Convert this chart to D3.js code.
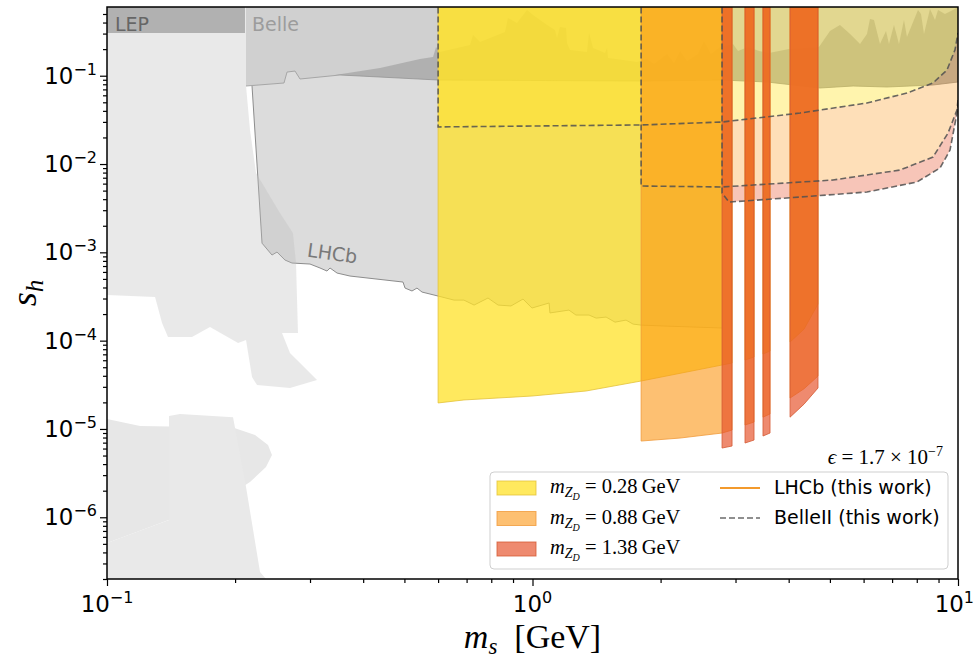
<!DOCTYPE html>
<html>
<head>
<meta charset="utf-8">
<script src="https://cdn.jsdelivr.net/npm/d3@7"></script>
<style>
  body { margin: 0; background: #fff; }
  svg { display: block; }
</style>
</head>
<body>
<svg id="chart" width="975" height="658"></svg>
<script>
// ---------------- data ----------------
const xDomain = [0.1, 10];
const yDomain = [2e-7, 0.6];
const xTickExps = [-1, 0, 1];
const yTickExps = [-6, -5, -4, -3, -2, -1];

// existing bounds (grey): [m_s (GeV), s_h]
const lepBound = [[0.1, 0.305], [0.211, 0.305]];
const belleBottom = [[0.2122, 0.0765], [0.2606, 0.0827], [0.2649, 0.110], [0.2766, 0.113], [0.2842, 0.0918],
  [0.3529, 0.1019], [0.6, 0.0894], [1.8, 0.0871], [2.789, 0.0894], [3.556, 0.0849], [4.738, 0.0726],
  [5.667, 0.0765], [6.809, 0.0745], [8.735, 0.0785], [10, 0.0849]];
const babarTop = [[0.3435, 0.1019], [0.4382, 0.1223], [0.5441, 0.155], [0.5838, 0.163], [0.5933, 0.211],
  [0.6061, 0.186], [0.7131, 0.223], [0.7248, 0.289], [0.7528, 0.241], [0.8617, 0.313], [0.8758, 0.450],
  [0.9196, 0.395], [0.9707, 0.555], [1.003, 0.487], [1.082, 0.375], [1.129, 0.329], [1.142, 0.267],
  [1.160, 0.356], [1.199, 0.347], [1.205, 0.235], [1.225, 0.196], [1.343, 0.186], [1.358, 0.305],
  [1.388, 0.206], [1.481, 0.181], [1.497, 0.206], [1.505, 0.159], [1.632, 0.151], [1.760, 0.143],
  [1.858, 0.155], [1.930, 0.136], [2.071, 0.176], [2.151, 0.139], [2.222, 0.191], [2.308, 0.147],
  [2.448, 0.176], [2.529, 0.247], [2.626, 0.176], [2.759, 0.211], [2.960, 0.229], [3.041, 0.191],
  [3.210, 0.211], [3.407, 0.191], [3.597, 0.181], [3.797, 0.191], [4.008, 0.201], [4.713, 0.211],
  [5.002, 0.321], [5.280, 0.375], [5.576, 0.297], [5.886, 0.229], [6.111, 0.297], [6.211, 0.439],
  [6.347, 0.428], [6.556, 0.229], [6.773, 0.321], [6.883, 0.229], [7.072, 0.375], [7.266, 0.229],
  [7.465, 0.428], [7.587, 0.274], [8.053, 0.555], [8.185, 0.500], [8.319, 0.297], [8.594, 0.570],
  [8.830, 0.428], [8.975, 0.555], [9.320, 0.500], [9.732, 0.555], [10, 0.6]];
const lhcbOld = [[0.2192, 0.0765], [0.2314, 0.00127], [0.2442, 0.000932], [0.2509, 0.001008], [0.262, 0.000818],
  [0.2721, 0.000757], [0.3, 0.000737], [0.3167, 0.000665], [0.3289, 0.000614], [0.3343, 0.000665],
  [0.3472, 0.000583], [0.3725, 0.000539], [0.4962, 0.000461], [0.5017, 0.000394], [0.521, 0.000365],
  [0.5352, 0.000394], [0.55, 0.000355], [0.6, 0.00032], [0.654, 0.000288], [0.69, 0.000288],
  [0.729, 0.000253], [0.786, 0.000304], [0.83, 0.000253], [0.89, 0.000247], [0.95, 0.000296],
  [0.997, 0.000234], [1.094, 0.000267], [1.099, 0.000206], [1.218, 0.000222], [1.265, 0.000195],
  [1.358, 0.000195], [1.411, 0.00018], [1.489, 0.000185], [1.563, 0.000162], [1.659, 0.000171],
  [1.723, 0.000154], [1.8, 0.00015], [2.071, 0.000146], [2.789, 0.000139]];
const lowMassA = [[0.1, 0.6], [0.2122, 0.6], [0.2122, 0.0765], [0.2168, 0.0243], [0.224, 0.00791],
  [0.255, 0.00279], [0.2735, 0.00166], [0.2781, 0.000757], [0.2811, 0.000122], [0.2578, 0.000122],
  [0.2692, 0.0000724], [0.3116, 0.0000358], [0.2692, 0.0000291], [0.2252, 0.0000314], [0.2192, 0.0000387],
  [0.2122, 0.000102], [0.2033, 0.000094], [0.1746, 0.000143], [0.1584, 0.00011], [0.1391, 0.00011],
  [0.1347, 0.000158], [0.1297, 0.000312], [0.1, 0.000329]];
const lowMassB = [[0.1, 1.30e-5], [0.1196, 1.08e-5], [0.1654, 1.05e-5], [0.2, 1.02e-5], [0.2228, 8.53e-6],
  [0.239, 6.58e-6], [0.2442, 5.06e-6], [0.2364, 3.70e-6], [0.2168, 2.51e-6], [0.1946, 1.79e-6],
  [0.1567, 1.15e-6], [0.1262, 7.75e-7], [0.1, 5.11e-7]];
const lowMassC = [[0.1399, 1.40e-5], [0.1484, 1.48e-5], [0.1978, 1.36e-5], [0.2122, 2.20e-6], [0.2289, 2.40e-7],
  [0.2364, 2.0e-7], [0.1, 2.0e-7], [0.1, 5.11e-7], [0.1262, 7.75e-7], [0.1399, 9.30e-7]];

// LHCb (this work): lower edges per m_ZD, and the m_s windows kept after vetoes
const lhcbWindows = [[0.5, 2.944], [3.158, 3.316], [3.481, 3.616], [4.03, 4.688]];
const lhcbLower028 = [[0.6, 1.97e-5], [0.69, 2.13e-5], [0.997, 2.36e-5], [1.336, 2.69e-5], [1.8, 3.49e-5],
  [2.789, 5.30e-5], [2.944, 5.58e-5], [3.158, 6.03e-5], [3.316, 6.53e-5], [3.481, 7.05e-5],
  [3.616, 7.63e-5], [4.03, 9.64e-5], [4.346, 1.35e-4], [4.688, 2.6e-4]];
const lhcbLower088 = [[1.8, 7.3e-6], [2.222, 7.89e-6], [2.789, 8.99e-6], [2.944, 9.72e-6], [3.158, 1.108e-5],
  [3.316, 1.198e-5], [3.481, 1.36e-5], [3.616, 1.48e-5], [4.03, 2.24e-5], [4.346, 2.85e-5], [4.688, 3.97e-5]];
const lhcbLower138 = [[2.789, 6.08e-6], [2.944, 6.41e-6], [3.158, 6.93e-6], [3.316, 7.49e-6], [3.481, 8.32e-6],
  [3.616, 8.99e-6], [4.03, 1.36e-5], [4.346, 1.91e-5], [4.688, 2.91e-5]];

// BelleII (this work): lower edges per m_ZD
const belle2Lower028 = [[0.6, 0.0263], [1.8, 0.0277], [2.789, 0.0299], [4.255, 0.0378], [6.111, 0.0491],
  [7.587, 0.0637], [8.735, 0.0827], [9.421, 0.116], [9.838, 0.196], [10, 0.305]];
const belle2Lower088 = [[1.8, 0.00564], [2.789, 0.0055], [5.084, 0.00659], [7.305, 0.00855], [8.735, 0.012],
  [9.474, 0.0224], [9.945, 0.0409], [10, 0.0531]];
const belle2Lower138 = [[2.789, 0.00469], [2.897, 0.00371], [4.255, 0.00423], [6.111, 0.00482], [8.009, 0.00626],
  [9.073, 0.00902], [9.577, 0.0144], [9.945, 0.0378], [10, 0.0466]];

const massLabels = ['0.28', '0.88', '1.38'];
const seriesColors = ['rgb(255,225,40)', 'rgb(251,150,20)', 'rgb(230,80,40)'];
const edgeColors = ['#e3c23a', '#f09a3a', '#d45a34'];
const lhcbAlpha = [0.75, 0.6, 0.67];
const belle2Alpha = [0.38, 0.3, 0.33];

// ---------------- layout ----------------
const W = 975, H = 658;
const margin = { left: 107, right: 17, top: 7, bottom: 79 };
const svg = d3.select('#chart');
const x = d3.scaleLog().domain(xDomain).range([margin.left, W - margin.right]);
const y = d3.scaleLog().domain(yDomain).range([H - margin.bottom, margin.top]);
const above = yDomain[1] * 2; // regions extend past the top of the frame

const line = d3.line().x(d => x(d[0])).y(d => y(d[1]));
const closed = pts => line(pts) + 'Z';
const toTop = pts => [...pts, [pts[pts.length - 1][0], above], [pts[0][0], above]];

svg.append('defs').append('clipPath').attr('id', 'plotArea').append('rect')
  .attr('x', margin.left).attr('y', margin.top)
  .attr('width', W - margin.left - margin.right).attr('height', H - margin.top - margin.bottom);

const plot = svg.append('g').attr('clip-path', 'url(#plotArea)');

// ---- existing constraints ----
plot.append('path').attr('d', closed(lowMassB)).attr('fill', '#e7e7e7');
plot.append('path').attr('d', closed(lowMassC)).attr('fill', '#e9e9e9');

plot.append('path').attr('d', closed(toTop(lhcbOld))).attr('fill', '#dcdcdc');
plot.append('path').attr('d', line(lhcbOld)).attr('fill', 'none').attr('stroke', '#8c8c8c').attr('stroke-width', 1);

plot.append('path').attr('d', closed(toTop(belleBottom))).attr('fill', '#d0d0d0');
plot.append('path').attr('d', line(belleBottom)).attr('fill', 'none').attr('stroke', '#a6a6a6').attr('stroke-width', 1);

const babarPoly = [...babarTop, ...belleBottom.filter(p => p[0] > 0.35).reverse()];
plot.append('path').attr('d', closed(babarPoly)).attr('fill', '#8a8a8a').attr('fill-opacity', 0.45);

plot.append('path').attr('d', closed(lowMassA)).attr('fill', '#bdbdbd').attr('fill-opacity', 0.33);

plot.append('path').attr('d', closed(toTop(lepBound))).attr('fill', '#b1b1b1');

// region labels
plot.append('text').attr('x', x(0.1044)).attr('y', y(0.325))
  .attr('font-family', 'DejaVu Sans').attr('font-size', 19).attr('fill', '#666').text('LEP');
plot.append('text').attr('x', x(0.2192)).attr('y', y(0.325))
  .attr('font-family', 'DejaVu Sans').attr('font-size', 19).attr('fill', '#9c9c9c').text('Belle');
plot.append('text')
  .attr('transform', `translate(${x(0.3367)},${y(0.00082)}) rotate(8)`)
  .attr('text-anchor', 'middle')
  .attr('font-family', 'DejaVu Sans').attr('font-size', 19).attr('fill', '#787878').text('LHCb');

// ---- BelleII bands (each lies between its own edge and the next lighter one) ----
const b2Lowers = [belle2Lower028, belle2Lower088, belle2Lower138];
b2Lowers.forEach((low, i) => {
  let pts;
  if (i === 0) {
    pts = toTop(low);
  } else {
    const m0 = low[0][0];
    const upper = b2Lowers[i - 1].filter(p => p[0] >= m0 - 1e-9).slice().reverse();
    pts = [...low, ...upper];
  }
  plot.append('path').attr('d', closed(pts))
    .attr('fill', seriesColors[i]).attr('fill-opacity', belle2Alpha[i]);
});

// ---- LHCb regions, split by the vetoed windows ----
[lhcbLower028, lhcbLower088, lhcbLower138].forEach((low, i) => {
  lhcbWindows.forEach(([a, b]) => {
    const seg = low.filter(p => p[0] >= a - 1e-9 && p[0] <= b + 1e-9);
    if (seg.length < 2) return;
    plot.append('path').attr('d', closed(toTop(seg)))
      .attr('fill', seriesColors[i]).attr('fill-opacity', lhcbAlpha[i])
      .attr('stroke', edgeColors[i]).attr('stroke-width', 1).attr('stroke-opacity', 0.8);
  });
});

// ---- BelleII dashed edges ----
b2Lowers.forEach(low => {
  const pts = [[low[0][0], above], ...low];
  plot.append('path').attr('d', line(pts)).attr('fill', 'none')
    .attr('stroke', '#505050').attr('stroke-width', 1.6).attr('stroke-opacity', 0.85)
    .attr('stroke-dasharray', '6,3');
});

// ---------------- axes ----------------
const majorX = xTickExps.map(e => 10 ** e);
const majorY = yTickExps.map(e => 10 ** e);
const minorX = [], minorY = [];
for (let e = -1; e < 1; e++) for (let k = 2; k <= 9; k++) minorX.push(k * 10 ** e);
for (let e = -7; e <= -1; e++) for (let k = 2; k <= 9; k++) {
  const v = k * 10 ** e;
  if (v >= yDomain[0] && v <= yDomain[1]) minorY.push(v);
}

const xAxisG = svg.append('g').attr('transform', `translate(0,${H - margin.bottom})`);
xAxisG.append('g').call(d3.axisBottom(x).tickValues(majorX).tickSize(7).tickFormat(''));
xAxisG.append('g').call(d3.axisBottom(x).tickValues(minorX).tickSize(4).tickFormat(''));
const yAxisG = svg.append('g').attr('transform', `translate(${margin.left},0)`);
yAxisG.append('g').call(d3.axisLeft(y).tickValues(majorY).tickSize(7).tickFormat(''));
yAxisG.append('g').call(d3.axisLeft(y).tickValues(minorY).tickSize(4).tickFormat(''));
svg.selectAll('.domain').remove();
svg.selectAll('.tick line').attr('stroke', '#000').attr('stroke-width', 1.2);

// frame
svg.append('rect').attr('x', margin.left).attr('y', margin.top)
  .attr('width', W - margin.left - margin.right).attr('height', H - margin.top - margin.bottom)
  .attr('fill', 'none').attr('stroke', '#000').attr('stroke-width', 1.5);

const supText = e => (e < 0 ? '\u2212' + (-e) : String(e));
xTickExps.forEach(e => {
  const t = svg.append('text').attr('x', x(10 ** e)).attr('y', H - margin.bottom + 33)
    .attr('text-anchor', 'middle').attr('font-family', 'DejaVu Sans').attr('font-size', 22.9).attr('fill', '#000');
  t.append('tspan').text('10');
  t.append('tspan').attr('dy', -9).attr('font-size', 16).text(supText(e));
  // keep the last label inside the canvas
  const bb = t.node().getBBox();
  if (bb.x + bb.width > W - 1) t.attr('x', +t.attr('x') - (bb.x + bb.width - (W - 1)));
});
yTickExps.forEach(e => {
  const t = svg.append('text').attr('x', margin.left - 10).attr('y', y(10 ** e) + 8)
    .attr('text-anchor', 'end').attr('font-family', 'DejaVu Sans').attr('font-size', 22.9).attr('fill', '#000');
  t.append('tspan').text('10');
  t.append('tspan').attr('dy', -9).attr('font-size', 16).text(supText(e));
});

// axis titles
const xt = svg.append('text').attr('x', (margin.left + W - margin.right) / 2).attr('y', 648)
  .attr('text-anchor', 'middle').attr('font-family', 'Liberation Serif').attr('font-size', 34).attr('fill', '#000');
xt.append('tspan').attr('font-style', 'italic').text('m');
xt.append('tspan').attr('font-style', 'italic').attr('font-size', 23).attr('dy', 6).text('s');
xt.append('tspan').attr('dy', -6).text('\u2002[GeV]');

const yt = svg.append('text').attr('transform', `translate(36,${(margin.top + H - margin.bottom) / 2}) rotate(-90)`)
  .attr('text-anchor', 'middle').attr('font-family', 'Liberation Serif').attr('font-size', 36).attr('fill', '#000');
yt.append('tspan').attr('font-style', 'italic').text('s');
yt.append('tspan').attr('font-style', 'italic').attr('font-size', 25).attr('dy', 7).text('h');

// epsilon note
const eps = svg.append('text').attr('x', 943).attr('y', 464).attr('text-anchor', 'end')
  .attr('font-family', 'Liberation Serif').attr('font-size', 21).attr('fill', '#000');
eps.append('tspan').attr('font-style', 'italic').text('\u03f5');
eps.append('tspan').text(' = 1.7 \u00d7 10');
eps.append('tspan').attr('font-size', 14).attr('dy', -8).text('\u22127');

// ---------------- legend ----------------
const leg = svg.append('g');
leg.append('rect').attr('x', 490).attr('y', 472).attr('width', 458).attr('height', 97).attr('rx', 4)
  .attr('fill', '#fff').attr('fill-opacity', 0.85).attr('stroke', '#cfcfcf').attr('stroke-width', 1);
massLabels.forEach((mz, i) => {
  const yy = 481 + i * 30.5;
  leg.append('rect').attr('x', 497).attr('y', yy).attr('width', 39).attr('height', 14)
    .attr('fill', seriesColors[i]).attr('fill-opacity', lhcbAlpha[i])
    .attr('stroke', edgeColors[i]).attr('stroke-width', 1).attr('stroke-opacity', 0.8);
  const t = leg.append('text').attr('x', 550).attr('y', yy + 12)
    .attr('font-family', 'Liberation Serif').attr('font-size', 20.5).attr('fill', '#000');
  t.append('tspan').attr('font-style', 'italic').text('m');
  t.append('tspan').attr('font-style', 'italic').attr('font-size', 14).attr('dy', 4).text('Z');
  t.append('tspan').attr('font-style', 'italic').attr('font-size', 10).attr('dy', 3).text('D');
  t.append('tspan').attr('dy', -7).text(` = ${mz}\u2009GeV`);
});
leg.append('line').attr('x1', 720).attr('x2', 760).attr('y1', 488).attr('y2', 488)
  .attr('stroke', '#f39a2c').attr('stroke-width', 2);
leg.append('line').attr('x1', 720).attr('x2', 760).attr('y1', 518).attr('y2', 518)
  .attr('stroke', '#505050').attr('stroke-opacity', 0.85).attr('stroke-width', 1.6).attr('stroke-dasharray', '6,3');
leg.append('text').attr('x', 774).attr('y', 494).attr('font-family', 'DejaVu Sans').attr('font-size', 19)
  .attr('fill', '#000').text('LHCb (this work)');
leg.append('text').attr('x', 774).attr('y', 524).attr('font-family', 'DejaVu Sans').attr('font-size', 19)
  .attr('fill', '#000').text('BelleII (this work)');
</script>
</body>
</html>
